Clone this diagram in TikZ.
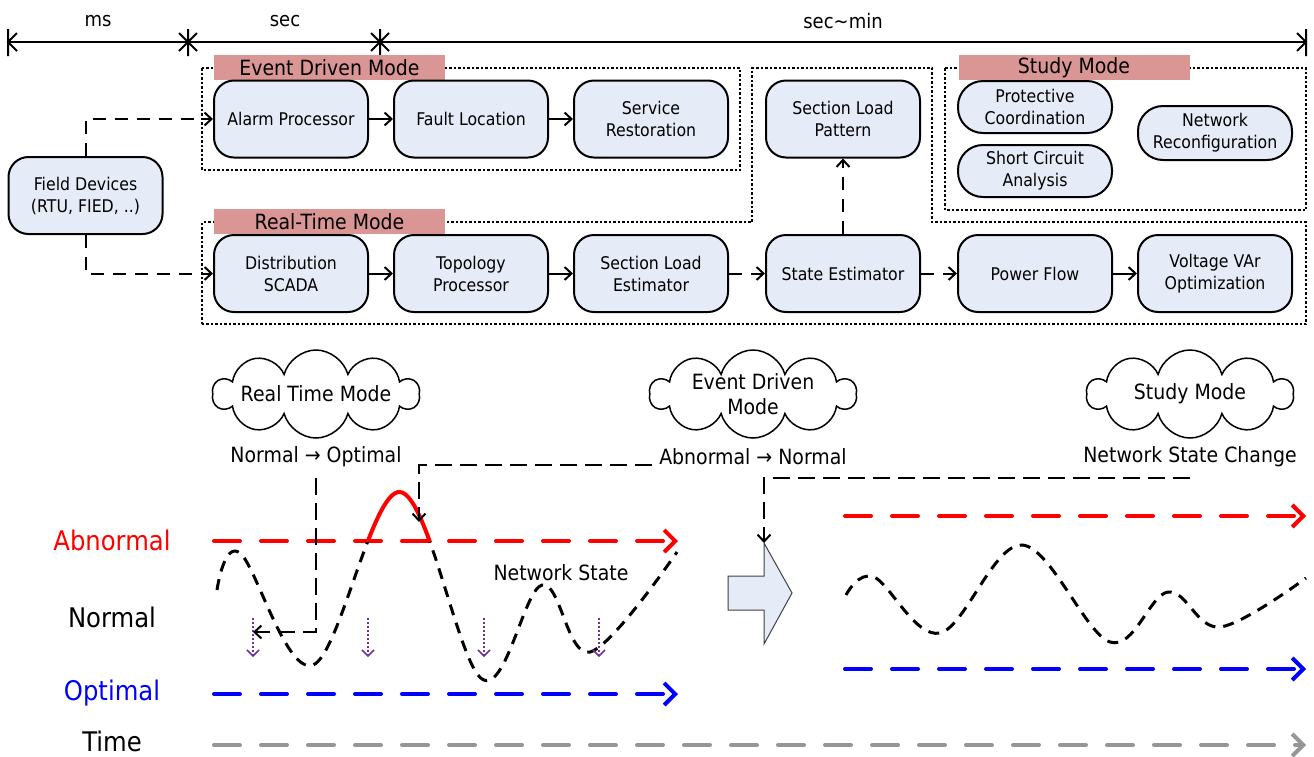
\documentclass[tikz,border=0pt]{standalone}
\usepackage{fontspec}
\setmainfont{DejaVu Sans}[FakeStretch=0.9]
\usetikzlibrary{arrows.meta,shapes.symbols,calc}
\definecolor{boxfill}{RGB}{230,236,247}
\definecolor{labfill}{RGB}{217,150,148}
\definecolor{purp}{RGB}{112,48,160}
\definecolor{grayl}{RGB}{150,150,150}
\newcommand{\fsz}[2]{\fontsize{#1}{#2}\selectfont}
\tikzset{
 blk/.style={draw, line width=2pt, fill=boxfill, rounded corners=20pt, minimum width=154pt, minimum height=77pt, align=center, inner sep=2pt, font=\fsz{17.5}{22}},
 oval/.style={blk, rounded corners=25pt, minimum height=52pt, inner sep=1pt},
 modelab/.style={fill=labfill, minimum width=231pt, minimum height=25pt, inner sep=0pt, font=\fsz{21}{24}},
 dotbox/.style={line width=1.8pt, dash pattern=on 2.5pt off 2pt},
 conn/.style={line width=2pt, -{Straight Barb[length=7pt,width=13pt]}},
 dconn/.style={conn, dash pattern=on 13pt off 9pt},
 bconn/.style={conn, dash pattern=on 17pt off 8pt},
 cld/.style={cloud, draw, line width=1.5pt, cloud puffs=10, cloud ignores aspect, minimum width=206pt, minimum height=88pt, inner sep=0pt},
 txt/.style={font=\fsz{21}{25}, inner sep=0pt, align=center},
 tlab/.style={font=\fsz{20}{24}, inner sep=0pt},
 lvl/.style={font=\fsz{27}{30}, inner sep=0pt},
 levline/.style={line width=4pt, line cap=round, dash pattern=on 26pt off 21pt, -{Straight Barb[length=11pt,width=22pt]}},
 ncurve/.style={line width=3pt, dash pattern=on 11pt off 8pt},
 parr/.style={purp, line width=1.5pt, dash pattern=on 2pt off 2pt, -{Straight Barb[length=6pt,width=12pt]}},
}
\begin{document}
\begin{tikzpicture}[x=1pt,y=-1pt]
\path[use as bounding box] (0,0) rectangle (1314,756);

% top timeline
\coordinate (tl) at (8,42);
\coordinate (ta) at (188,42);
\coordinate (tb) at (380,42);
\coordinate (tr) at (1306,42);
\draw[line width=2pt] (tl) -- (tr);
\draw[line width=2pt] (8,29) -- (8,56) (17,33) -- (tl) -- (17,51);
\draw[line width=2pt] (1306,29) -- (1306,56) (1297,33) -- (tr) -- (1297,51);
\foreach \c in {ta,tb}{
  \draw[line width=2pt] ($(\c)+(0,-13)$) -- ($(\c)+(0,14)$)
     ($(\c)+(-9,-9)$) -- ($(\c)+(9,9)$) ($(\c)+(-9,9)$) -- ($(\c)+(9,-9)$);
}
\node[tlab] (lms) at (98,21) {ms};
\node[tlab] (lsec) at (285,21) {sec};
\node[tlab] (lmin) at (843,21) {sec\textasciitilde min};

% dotted groups
\draw[dotbox] (202,68) rectangle (740,170);
\draw[dotbox] (202,324) -- (202,222) -- (752,222) -- (752,68) -- (932,68) -- (932,222) -- (1306,222) -- (1306,324) -- cycle;
\draw[dotbox] (945,68) rectangle (1306,210);

\node[modelab] (evl) at (329.5,67.5) {Event Driven Mode};
\node[modelab] (rtl) at (329.5,221.5) {Real-Time Mode};
\node[modelab] (stl) at (1074,67.5) {Study Mode};

% boxes
\node[blk] (alarm) at (291,119) {Alarm Processor};
\node[blk] (fault) at (471,119) {Fault Location};
\node[blk] (serv) at (651,119) {Service\\Restoration};
\node[blk] (slp) at (843,119) {Section Load\\Pattern};
\node[blk] (fd) at (85.5,195.5) {Field Devices\\(RTU, FIED, ..)};
\node[blk] (ds) at (291,273.5) {Distribution\\SCADA};
\node[blk] (tp) at (471,273.5) {Topology\\Processor};
\node[blk] (sle) at (651,273.5) {Section Load\\Estimator};
\node[blk] (se) at (843,273.5) {State Estimator};
\node[blk] (pf) at (1035,273.5) {Power Flow};
\node[blk] (vvo) at (1215,273.5) {Voltage VAr\\Optimization};
\node[oval] (pc) at (1035,107) {Protective\\Coordination};
\node[oval] (sc) at (1035,171) {Short Circuit\\Analysis};
\node[oval, minimum height=54pt] (nr) at (1215,133) {Network\\Reconfiguration};

% connectors
\draw[dconn] (fd.north) |- (alarm.west);
\draw[dconn] (fd.south) |- (ds.west);
\draw[conn] (alarm) -- (fault);
\draw[conn] (fault) -- (serv);
\draw[conn] (ds) -- (tp);
\draw[conn] (tp) -- (sle);
\draw[dconn] (sle) -- (se);
\draw[dconn] (se) -- (pf);
\draw[conn] (pf) -- (vvo);
\draw[dconn] (se) -- (slp);

% clouds
\node[cld] (c1) at (316,394) {};
\node[cld] (c2) at (753,394) {};
\node[cld] (c3) at (1190,394) {};
\node[txt] (c1t) at (c1.center) {Real Time Mode};
\node[txt] (c2t) at (c2.center) {Event Driven\\Mode};
\node[txt] (c3t) at (c3.center) {Study Mode};
\node[txt] (t1) at (316,457) {Normal → Optimal};
\node[txt] (t2) at (753,457) {Abnormal → Normal};
\node[txt] (t3) at (1190,457) {Network State Change};

% level labels
\node[lvl, text=red] (labn) at (112,540) {Abnormal};
\node[lvl] (lnor) at (112,617) {Normal};
\node[lvl, text=blue] (lopt) at (112,693) {Optimal};
\node[lvl] (ltime) at (112,741) {Time};

% level lines
\coordinate (r1s) at (214,541); \coordinate (r1e) at (678,541);
\coordinate (b1s) at (214,694); \coordinate (b1e) at (678,694);
\coordinate (r2s) at (845,516); \coordinate (r2e) at (1306,516);
\coordinate (b2s) at (845,669); \coordinate (b2e) at (1306,669);
\coordinate (gs) at (214,745); \coordinate (ge) at (1306,745);
\draw[levline, red] (r1s) -- (r1e);
\draw[levline, blue] (b1s) -- (b1e);
\draw[levline, red] (r2s) -- (r2e);
\draw[levline, blue] (b2s) -- (b2e);
\draw[levline, grayl] (gs) -- (ge);

% network state curves
\begin{scope}
\clip (200,541) rectangle (700,700);
\draw[ncurve] plot[smooth,tension=0.6] coordinates {(217,590) (240,553) (313,665) (400,492) (482,679) (542,585) (590,652) (677,552)};
\end{scope}
\begin{scope}
\clip (340,470) rectangle (450,541);
\draw[red, line width=4pt] plot[smooth,tension=0.6] coordinates {(217,590) (240,553) (313,665) (400,492) (482,679) (542,585) (590,652) (677,552)};
\end{scope}
\draw[ncurve] plot[smooth,tension=0.6] coordinates {(846,595) (874,577) (940,633) (1022,545) (1110,642) (1168,592) (1220,627) (1306,578)};
\node[txt] (ns) at (561,573) {Network State};

% purple arrows
\foreach \x in {253,368,484,599}{
  \draw[parr] (\x,618) -- (\x,657);
}

% block arrow
\coordinate (bat) at (764,543);
\draw[line width=1pt, draw=black!75, fill=boxfill] (728,576) -- (764,576) -- (bat) -- (792,593) -- (764,644) -- (764,610) -- (728,610) -- cycle;

% mode connectors
\coordinate (a1) at (316,478); \coordinate (a1e) at (253,632);
\draw[bconn] (a1) |- (a1e);
\coordinate (b1) at (652,465); \coordinate (b1end) at (419,522);
\draw[bconn] (b1) -| (b1end);
\coordinate (c1s) at (1190,478);
\draw[bconn] (c1s) -| (bat);
\end{tikzpicture}
\end{document}
